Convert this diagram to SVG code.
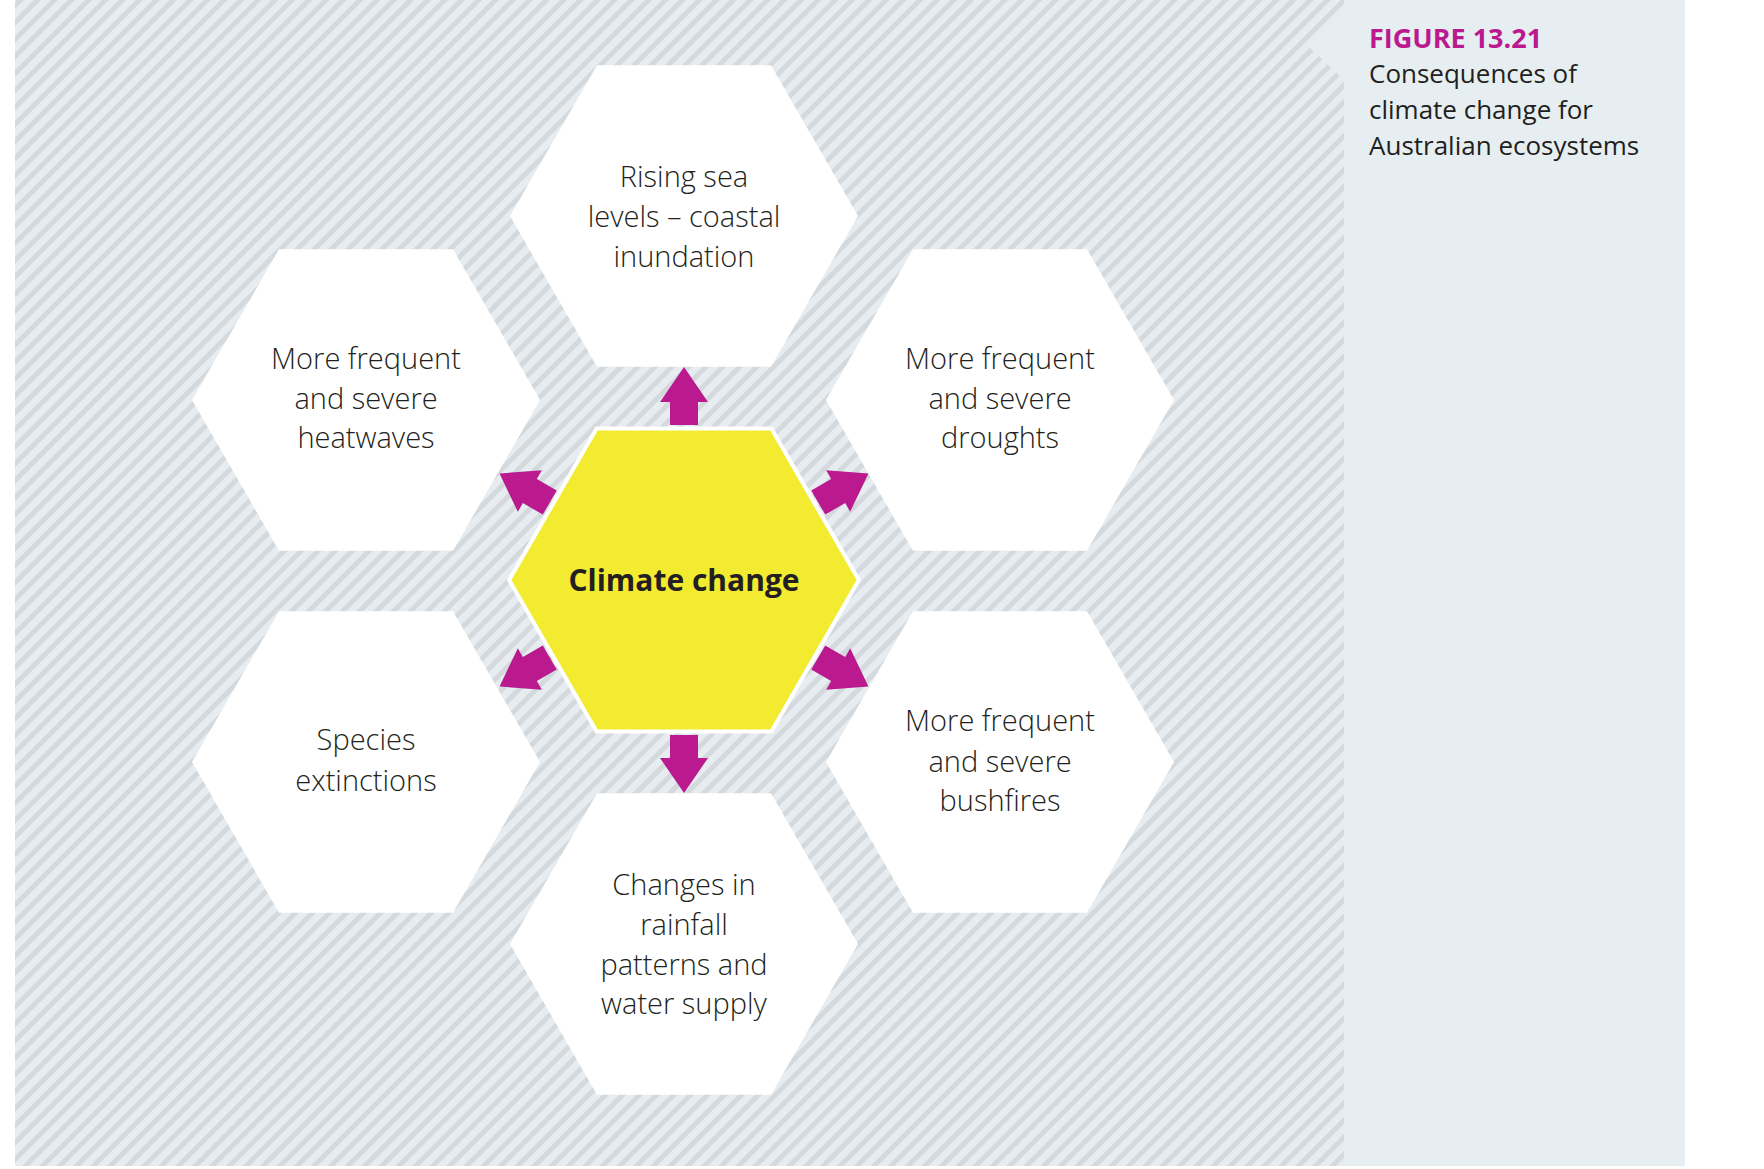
<svg xmlns="http://www.w3.org/2000/svg" width="1764" height="1169" viewBox="0 0 1764 1169">
<style>
.hex{fill:#ffffff}
.t{font-family:"Open Sans","Liberation Sans",sans-serif;font-weight:300;font-size:29px;fill:#231f20;text-anchor:middle}
.arrow{fill:#bb1a8e}
</style>
<defs>
<pattern id="stripes" width="12" height="12" patternUnits="userSpaceOnUse" patternTransform="rotate(45)">
<rect width="12" height="12" fill="#e6ecef"/>
<rect width="5" height="12" fill="#d3d9dd"/>
</pattern>
<polygon id="hx" points="-174,0 -87,-150.7 87,-150.7 174,0 87,150.7 -87,150.7"/>
<path id="ar" d="M-14,-155 L-14,-178 L-24,-178 L0,-213 L24,-178 L14,-178 L14,-155 Z"/>
</defs>
<rect x="0" y="0" width="1764" height="1169" fill="#ffffff"/>
<rect x="15" y="0" width="1329" height="1166" fill="url(#stripes)"/>
<rect x="1344" y="0" width="341" height="1166" fill="#e6eef2"/>
<polygon points="1344,13 1307,45 1344,80" fill="#e6eef2"/>
<g id="connectors">
<g transform="translate(684,580)">
<use href="#ar" class="arrow"/>
<use href="#ar" class="arrow" transform="rotate(60)"/>
<use href="#ar" class="arrow" transform="rotate(120)"/>
<use href="#ar" class="arrow" transform="rotate(180)"/>
<use href="#ar" class="arrow" transform="rotate(240)"/>
<use href="#ar" class="arrow" transform="rotate(300)"/>
</g>
</g>
<g id="center">
<use href="#hx" transform="translate(684,580) scale(1.005)" fill="#f2eb30" stroke="#ffffff" stroke-width="4"/>
<text x="684" y="591" style="font-family:'Open Sans','Liberation Sans',sans-serif;font-weight:700;font-size:30px;fill:#231f20;text-anchor:middle">Climate change</text>
</g>
<g id="top">
<use href="#hx" class="hex" transform="translate(684,216)"/>
<text class="t" x="684" y="187">Rising sea</text>
<text class="t" x="684" y="227">levels – coastal</text>
<text class="t" x="684" y="267">inundation</text>
</g>
<g id="heatwaves">
<use href="#hx" class="hex" transform="translate(366,400)"/>
<text class="t" x="366" y="369">More frequent</text>
<text class="t" x="366" y="409">and severe</text>
<text class="t" x="366" y="448">heatwaves</text>
</g>
<g id="droughts">
<use href="#hx" class="hex" transform="translate(1000,400)"/>
<text class="t" x="1000" y="369">More frequent</text>
<text class="t" x="1000" y="409">and severe</text>
<text class="t" x="1000" y="448">droughts</text>
</g>
<g id="species">
<use href="#hx" class="hex" transform="translate(366,762)"/>
<text class="t" x="366" y="750">Species</text>
<text class="t" x="366" y="791">extinctions</text>
</g>
<g id="bushfires">
<use href="#hx" class="hex" transform="translate(1000,762)"/>
<text class="t" x="1000" y="731">More frequent</text>
<text class="t" x="1000" y="772">and severe</text>
<text class="t" x="1000" y="811">bushfires</text>
</g>
<g id="rainfall">
<use href="#hx" class="hex" transform="translate(684,944)"/>
<text class="t" x="684" y="895">Changes in</text>
<text class="t" x="684" y="935">rainfall</text>
<text class="t" x="684" y="975">patterns and</text>
<text class="t" x="684" y="1014">water supply</text>
</g>
<g id="caption">
<text x="1369" y="48" style="font-family:'Open Sans','Liberation Sans',sans-serif;font-weight:700;font-size:27px;fill:#bb1a8e">FIGURE 13.21</text>
<text x="1369" y="83" style="font-family:'Open Sans','Liberation Sans',sans-serif;font-size:26px;fill:#231f20">Consequences of</text>
<text x="1369" y="119" style="font-family:'Open Sans','Liberation Sans',sans-serif;font-size:26px;fill:#231f20">climate change for</text>
<text x="1369" y="155" style="font-family:'Open Sans','Liberation Sans',sans-serif;font-size:26px;fill:#231f20">Australian ecosystems</text>
</g>
</svg>
